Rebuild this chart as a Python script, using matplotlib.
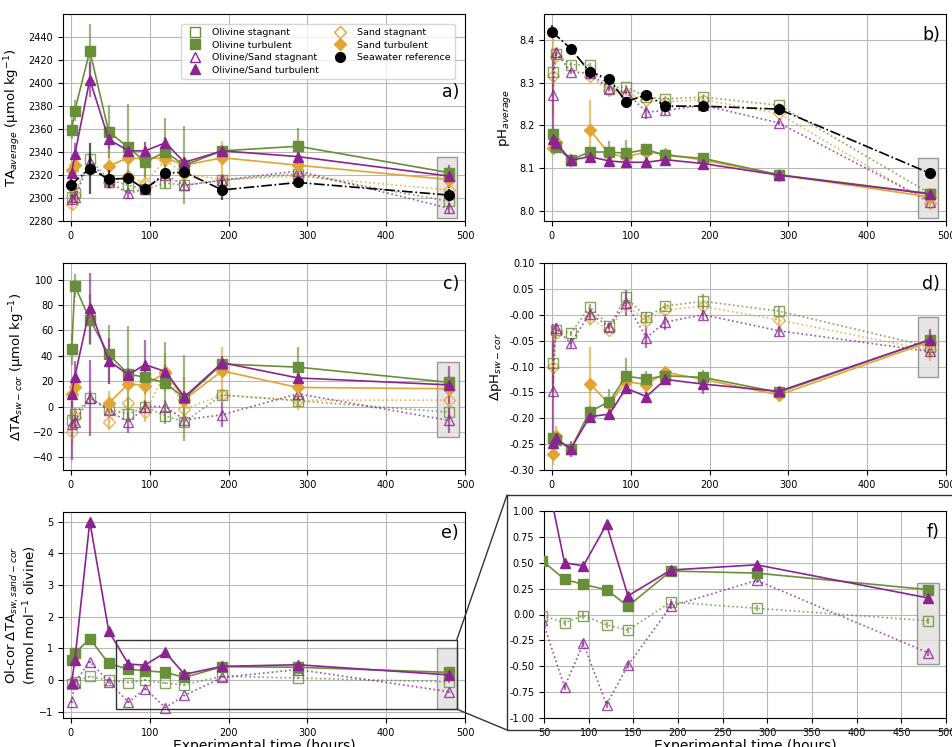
import numpy as np
import matplotlib
matplotlib.use("Agg")
import matplotlib.pyplot as plt
from matplotlib.lines import Line2D
from matplotlib.patches import Rectangle, ConnectionPatch

nan = np.nan

# sampling times (hours)
t = [1, 5, 24, 48, 73, 94, 120, 144, 192, 288, 480]
t_sw = [0, 24, 48, 73, 94, 120, 144, 192, 288, 480]

# a) TA average
ta_ol_stag = [2300.5, 2304, 2334, 2316, 2311, 2307.5, 2313, 2311, 2315.5, 2321, 2297]
ta_ol_turb = [2359.5, 2376, 2428, 2357.5, 2344, 2331.5, 2340, 2328.5, 2341, 2345, 2322]
ta_os_stag = [2299, 2301, 2331.5, 2314, 2304, 2308, 2320, 2311, 2315.5, 2323.5, 2291]
ta_os_turb = [2322, 2338, 2403, 2351, 2341, 2341, 2348, 2331, 2341, 2336, 2319]
ta_sa_stag = [2294.5, 2303, nan, 2314, 2319, 2313, 2333, 2321, 2316, 2319, 2307]
ta_sa_turb = [2324, 2329, nan, 2328, 2335, 2334, 2335, 2328.5, 2335, 2328.5, 2316]
ta_sw = [2311.5, 2325.5, 2316.5, 2317, 2307.5, 2321.5, 2322.5, 2307, 2313.5, 2302.5]

ta_ol_stag_err = [5, 5, 5, 5, 5, 5, 5, 5, 5, 5, 5]
ta_ol_turb_err = [8, 9, 23, 23, 38, 13, 30, 34, 5, 16, 5]
ta_os_stag_err = [5, 5, 5, 5, 5, 5, 5, 5, 5, 5, 5]
ta_os_turb_err = [5, 10, 15, 8, 5, 8, 5, 5, 3, 5, 10]
ta_sa_stag_err = [5, 5, nan, 5, 5, 8, 5, 5, 5, 5, 5]
ta_sa_turb_err = [5, 5, nan, 15, 5, 15, 15, 5, 15, 5, 5]
ta_sw_err = [5, 22, 8, 5, 5, 5, 5, 9, 5, 5]

# b) pH average
ph_ol_stag = [8.325, 8.367, 8.342, 8.340, 8.288, 8.290, 8.266, 8.262, 8.266, 8.247, 8.041]
ph_ol_turb = [8.179, 8.150, 8.120, 8.138, 8.138, 8.135, 8.144, 8.130, 8.123, 8.085, 8.041]
ph_os_stag = [8.270, 8.371, 8.325, 8.322, 8.286, 8.278, 8.231, 8.235, 8.247, 8.206, 8.022]
ph_os_turb = [8.168, 8.160, 8.119, 8.127, 8.117, 8.114, 8.114, 8.120, 8.111, 8.084, 8.040]
ph_sa_stag = [8.315, 8.363, nan, 8.315, 8.282, 8.274, 8.260, 8.255, 8.260, 8.228, 8.018]
ph_sa_turb = [8.148, 8.162, nan, 8.190, 8.133, 8.127, 8.138, 8.133, 8.119, 8.085, 8.033]
ph_sw = [8.419, 8.379, 8.325, 8.308, 8.255, 8.272, 8.245, 8.245, 8.238, 8.088]

ph_ol_stag_err = [0.01, 0.01, 0.005, 0.005, 0.005, 0.005, 0.005, 0.005, 0.005, 0.005, 0.005]
ph_ol_turb_err = [0.02, 0.01, 0.005, 0.01, 0.025, 0.03, 0.01, 0.005, 0.005, 0.005, 0.005]
ph_os_stag_err = [0.1, 0.01, 0.005, 0.005, 0.005, 0.005, 0.015, 0.01, 0.005, 0.005, 0.005]
ph_os_turb_err = [0.01, 0.01, 0.015, 0.01, 0.005, 0.005, 0.005, 0.005, 0.005, 0.005, 0.005]
ph_sa_stag_err = [0.09, 0.01, nan, 0.01, 0.005, 0.005, 0.005, 0.005, 0.005, 0.005, 0.005]
ph_sa_turb_err = [0.01, 0.01, nan, 0.07, 0.005, 0.005, 0.005, 0.005, 0.005, 0.005, 0.02]
ph_sw_err = [0.015, 0.005, 0.01, 0.005, 0.01, 0.005, 0.005, 0.01, 0.005, 0.005]

# c) delta TA sw-cor
dta_ol_stag = [-11, -6, 7, -2, -6, 0, -7.5, -12, 9, 4.5, -4.5]
dta_ol_turb = [45, 95, 68.5, 41, 25.5, 23, 18.5, 6.5, 33.5, 31, 19]
dta_os_stag = [-14, -12, 7, -3, -12.5, 0, 0, -10.5, -6.5, 10, -11]
dta_os_turb = [10, 23.5, 77.5, 36, 25, 33, 27.5, 7.5, 34.5, 22.5, 17]
dta_sa_stag = [-20, -8, nan, -12.5, 2.5, -4, 26.5, -2, 9, 5, 5]
dta_sa_turb = [9.5, 15, nan, 2.5, 18, 16.5, 27, 5.5, 28, 15, 14]

dta_ol_stag_err = [5, 5, 5, 5, 5, 5, 5, 5, 5, 5, 5]
dta_ol_turb_err = [12, 9, 20, 23, 38, 13, 32, 34, 5, 16, 5]
dta_os_stag_err = [28, 5, 30, 5, 8, 5, 5, 5, 10, 5, 10]
dta_os_turb_err = [10, 12, 28, 18, 5, 19, 5, 5, 5, 5, 15]
dta_sa_stag_err = [8, 5, nan, 6, 5, 8, 5, 5, 5, 8, 5]
dta_sa_turb_err = [6, 6, nan, 10, 5, 12, 15, 18, 19, 6, 6]

# d) delta pH sw-cor
dph_ol_stag = [-0.094, -0.029, -0.036, 0.015, -0.021, 0.034, -0.005, 0.017, 0.026, 0.007, -0.062]
dph_ol_turb = [-0.239, -0.242, -0.259, -0.187, -0.168, -0.119, -0.124, -0.118, -0.121, -0.150, -0.048]
dph_os_stag = [-0.148, -0.026, -0.055, 0.002, -0.023, 0.023, -0.044, -0.014, 0.0, -0.031, -0.071]
dph_os_turb = [-0.247, -0.239, -0.259, -0.197, -0.192, -0.142, -0.158, -0.125, -0.134, -0.148, -0.048]
dph_sa_stag = [-0.101, -0.036, nan, -0.007, -0.030, 0.018, -0.012, 0.010, 0.016, -0.010, -0.069]
dph_sa_turb = [-0.270, -0.235, nan, -0.133, -0.173, -0.129, -0.135, -0.111, -0.125, -0.155, -0.052]

dph_ol_stag_err = [0.04, 0.01, 0.005, 0.005, 0.005, 0.01, 0.01, 0.005, 0.015, 0.01, 0.01]
dph_ol_turb_err = [0.01, 0.01, 0.01, 0.01, 0.025, 0.035, 0.015, 0.005, 0.015, 0.005, 0.01]
dph_os_stag_err = [0.13, 0.01, 0.01, 0.01, 0.005, 0.025, 0.02, 0.015, 0.01, 0.01, 0.01]
dph_os_turb_err = [0.01, 0.01, 0.015, 0.01, 0.005, 0.01, 0.01, 0.005, 0.02, 0.005, 0.02]
dph_sa_stag_err = [0.05, 0.01, nan, 0.015, 0.005, 0.01, 0.01, 0.005, 0.01, 0.01, 0.02]
dph_sa_turb_err = [0.02, 0.02, nan, 0.07, 0.01, 0.01, 0.01, 0.005, 0.015, 0.01, 0.02]

# e/f) olivine-corrected delta TA
ol_ol_stag = [-0.13, -0.06, 0.11, -0.01, -0.08, -0.01, -0.10, -0.15, 0.12, 0.06, -0.06]
ol_ol_turb = [0.62, 0.84, 1.30, 0.52, 0.34, 0.29, 0.24, 0.08, 0.42, 0.40, 0.24]
ol_os_stag = [-0.71, -0.08, 0.58, -0.05, -0.70, -0.28, -0.87, -0.49, 0.08, 0.33, -0.37]
ol_os_turb = [-0.08, 0.62, 5.0, 1.54, 0.50, 0.47, 0.87, 0.18, 0.43, 0.48, 0.16]
ol_err = [0.03] * 11

GREEN = "#6a8f3b"
PURPLE = "#8b2391"
ORANGE = "#e3a531"

W, H = 953, 747
fig = plt.figure(figsize=(W / 100, H / 100), dpi=100)


def box(left, top, right, bottom):
    return [left / W, 1 - bottom / H, (right - left) / W, (bottom - top) / H]


def draw(ax, x, y, err, color, marker, filled, ls, ms=6.5, z=3):
    ax.errorbar(x, y, yerr=err, fmt="none", ecolor=color, elinewidth=1.6,
                alpha=0.65, zorder=z - 1)
    if filled:
        ax.plot(x, y, color=color, ls=ls, lw=1.2, marker=marker, ms=ms,
                mfc=color, mec=color, zorder=z)
    else:
        ax.plot(x, y, color=color, ls=ls, lw=1.2, marker=marker, ms=ms,
                mfc="none", mec=color, mew=1.0, alpha=0.8, zorder=z)


def setup(ax, letter, ylabel, ly=0.94, pad=4):
    ax.grid(True, color="#b8b8b8", lw=0.8)
    ax.set_axisbelow(True)
    ax.tick_params(labelsize=7)
    ax.set_ylabel(ylabel, fontsize=9.5, labelpad=pad)
    ax.text(0.985, ly, letter, transform=ax.transAxes, ha="right", va="top",
            fontsize=12.5)


def grey_box(ax, x0, x1, y0, y1):
    ax.add_patch(Rectangle((x0, y0), x1 - x0, y1 - y0, fc="#e4e2e0",
                           ec="#8a8a8a", lw=1, alpha=0.85, zorder=1))


def six(ax, d, sw=None, sw_err=None):
    (os_, os_e, ot, ot_e, ss, ss_e, st, st_e, xs, xs_e, xt, xt_e) = d
    draw(ax, t, xs, xs_e, ORANGE, "D", False, ":", ms=6.5)
    draw(ax, t, os_, os_e, GREEN, "s", False, ":")
    draw(ax, t, ss, ss_e, PURPLE, "^", False, ":")
    draw(ax, t, xt, xt_e, ORANGE, "D", True, "-", ms=6.5, z=4)
    draw(ax, t, ot, ot_e, GREEN, "s", True, "-", z=4)
    draw(ax, t, st, st_e, PURPLE, "^", True, "-", z=4)
    if sw is not None:
        draw(ax, t_sw, sw, sw_err, "black", "o", True, "-.", ms=7, z=5)


# a)
ax_a = fig.add_axes(box(63, 14, 465, 221))
six(ax_a, (ta_ol_stag, ta_ol_stag_err, ta_ol_turb, ta_ol_turb_err,
           ta_os_stag, ta_os_stag_err, ta_os_turb, ta_os_turb_err,
           ta_sa_stag, ta_sa_stag_err, ta_sa_turb, ta_sa_turb_err), ta_sw, ta_sw_err)
grey_box(ax_a, 464, 489.5, 2282.3, 2335.3)
ax_a.set_xlim(-10, 500)
ax_a.set_ylim(2280, 2460)
ax_a.set_yticks(np.arange(2280, 2441, 20))
setup(ax_a, "a)", r"TA$_{average}$ (µmol kg$^{-1}$)", ly=0.665)

# b)
ax_b = fig.add_axes(box(544, 14, 946, 221))
six(ax_b, (ph_ol_stag, ph_ol_stag_err, ph_ol_turb, ph_ol_turb_err,
           ph_os_stag, ph_os_stag_err, ph_os_turb, ph_os_turb_err,
           ph_sa_stag, ph_sa_stag_err, ph_sa_turb, ph_sa_turb_err), ph_sw, ph_sw_err)
grey_box(ax_b, 464, 490, 7.983, 8.125)
ax_b.set_xlim(-10, 500)
ax_b.set_ylim(7.977, 8.46)
ax_b.set_yticks([8.0, 8.1, 8.2, 8.3, 8.4])
setup(ax_b, "b)", r"pH$_{average}$")

# c)
ax_c = fig.add_axes(box(63, 263, 465, 470))
six(ax_c, (dta_ol_stag, dta_ol_stag_err, dta_ol_turb, dta_ol_turb_err,
           dta_os_stag, dta_os_stag_err, dta_os_turb, dta_os_turb_err,
           dta_sa_stag, dta_sa_stag_err, dta_sa_turb, dta_sa_turb_err))
grey_box(ax_c, 464, 492, -23.8, 35.2)
ax_c.set_xlim(-10, 500)
ax_c.set_ylim(-50, 113)
ax_c.set_yticks(np.arange(-40, 101, 20))
setup(ax_c, "c)", r"ΔTA$_{sw-cor}$ (µmol kg$^{-1}$)")

# d)
ax_d = fig.add_axes(box(544, 263, 946, 470))
six(ax_d, (dph_ol_stag, dph_ol_stag_err, dph_ol_turb, dph_ol_turb_err,
           dph_os_stag, dph_os_stag_err, dph_os_turb, dph_os_turb_err,
           dph_sa_stag, dph_sa_stag_err, dph_sa_turb, dph_sa_turb_err))
grey_box(ax_d, 464, 490, -0.121, -0.005)
ax_d.set_xlim(-10, 500)
ax_d.set_ylim(-0.30, 0.10)
ax_d.set_yticks(np.arange(-0.30, 0.101, 0.05))
ax_d.yaxis.set_major_formatter(matplotlib.ticker.FormatStrFormatter("%.2f"))
setup(ax_d, "d)", r"ΔpH$_{sw-cor}$")

# e) and f) zoom
ax_e = fig.add_axes(box(63, 512, 465, 718))
ax_f = fig.add_axes(box(544, 511, 946, 718))
for ax in (ax_e, ax_f):
    draw(ax, t, ol_ol_stag, ol_err, GREEN, "s", False, ":")
    draw(ax, t, ol_os_stag, ol_err, PURPLE, "^", False, ":")
    draw(ax, t, ol_ol_turb, ol_err, GREEN, "s", True, "-", z=4)
    draw(ax, t, ol_os_turb, ol_err, PURPLE, "^", True, "-", z=4)
grey_box(ax_e, 465, 489.5, -0.92, 1.0)
grey_box(ax_f, 467, 492.5, -0.479, 0.309)
ax_e.set_xlim(-10, 500)
ax_e.set_ylim(-1.2, 5.3)
ax_e.set_yticks(np.arange(-1, 6, 1))
setup(ax_e, "e)", "Ol-cor ΔTA$_{sw, sand-cor}$\n(mmol mol$^{-1}$ olivine)", pad=0)
ax_e.yaxis.label.set_linespacing(1.0)
ax_f.set_xlim(50, 500)
ax_f.set_ylim(-1, 1)
ax_f.set_yticks(np.arange(-1, 1.01, 0.25))
ax_f.set_xticks(np.arange(50, 501, 50))
ax_f.yaxis.set_major_formatter(matplotlib.ticker.FormatStrFormatter("%.2f"))
setup(ax_f, "f)", "")
for ax in (ax_e, ax_f):
    ax.set_xlabel("Experimental time (hours)", fontsize=10, labelpad=1)
for ax in (ax_a, ax_b, ax_c, ax_d):
    ax.set_xticks(np.arange(0, 501, 100))
ax_e.set_xticks(np.arange(0, 501, 100))

# zoom indication
ax_e.add_patch(Rectangle((57, -0.92), 432.5, 2.18, fill=False, ec="#333333",
                         lw=1, zorder=6))
fig.add_artist(Rectangle((507 / W, 1 - 730 / H), 0.5, 235 / H,
                         transform=fig.transFigure, fill=False, ec="#333333", lw=1))
for yd, yp in ((1.26, 495), (-0.92, 730)):
    fig.add_artist(ConnectionPatch(xyA=(489.5, yd), coordsA=ax_e.transData,
                                   xyB=(507 / W, 1 - yp / H), coordsB=fig.transFigure,
                                   color="#333333", lw=1))

# legend
handles = [
    Line2D([], [], ls="none", marker="s", ms=6.5, mfc="none", mec=GREEN),
    Line2D([], [], ls="none", marker="s", ms=6.5, mfc=GREEN, mec=GREEN),
    Line2D([], [], ls="none", marker="^", ms=6.5, mfc="none", mec=PURPLE),
    Line2D([], [], ls="none", marker="^", ms=6.5, mfc=PURPLE, mec=PURPLE),
    Line2D([], [], ls="none", marker="D", ms=6.5, mfc="none", mec=ORANGE),
    Line2D([], [], ls="none", marker="D", ms=6.5, mfc=ORANGE, mec=ORANGE),
    Line2D([], [], ls="none", marker="o", ms=7, mfc="black", mec="black"),
]
labels = ["Olivine stagnant", "Olivine turbulent", "Olivine/Sand stagnant",
          "Olivine/Sand turbulent", "Sand stagnant", "Sand turbulent",
          "Seawater reference"]
ax_a.legend(handles, labels, ncol=2, loc="upper right", fontsize=6.8,
            bbox_to_anchor=(460 / W, 1 - 19 / H), bbox_transform=fig.transFigure,
            labelspacing=0.35, columnspacing=1.2, borderpad=0.5)

fig.savefig("out.png", dpi=100)
